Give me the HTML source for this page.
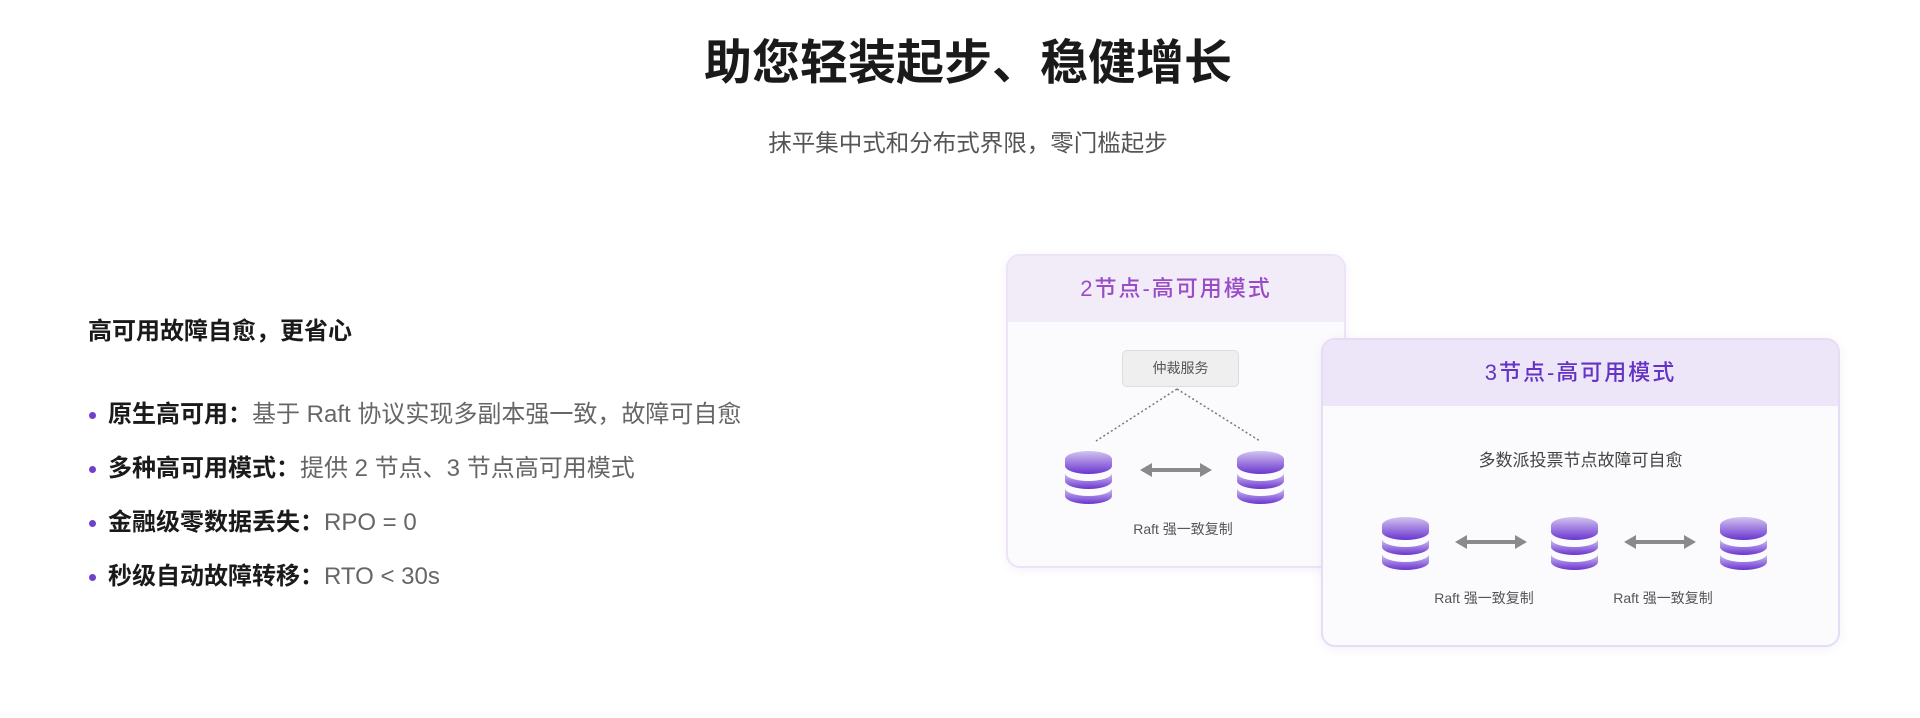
<!DOCTYPE html>
<html><head><meta charset="utf-8"><style>
*{margin:0;padding:0;box-sizing:border-box}
body{width:1920px;height:718px;background:#fff;position:relative;overflow:hidden;font-family:"Liberation Sans","Noto Sans CJK SC",sans-serif;color:#222}
.abs{position:absolute}
h1{position:absolute;left:8px;width:1920px;top:34px;text-align:center;font-size:48px;font-weight:700;color:#1a1a1a;line-height:60px}
.sub{left:8px;width:1920px;top:128px;text-align:center;font-size:23.5px;color:#555;line-height:30px}
.lh{left:88px;top:317px;font-size:24px;font-weight:700;color:#1a1a1a;line-height:30px}
.li{left:108px;font-size:24px;color:#666;line-height:30px;white-space:nowrap}
.li b{color:#1a1a1a}
.dot{width:7px;height:7px;border-radius:50%;background:#7040c8;left:89px}
.card{border:2px solid #ece4f6;border-radius:14px;background:#fbfbfd;overflow:hidden;box-shadow:0 2px 10px rgba(120,80,180,0.08)}
.hd{position:absolute;left:0;right:0;top:0;text-align:center;font-size:22px;letter-spacing:2px;font-weight:500}
.t{font-size:14px;color:#555;text-align:center;white-space:nowrap}
</style></head><body>
<h1>助您轻装起步、稳健增长</h1>
<div class="abs sub">抹平集中式和分布式界限，零门槛起步</div>
<div class="abs lh">高可用故障自愈，更省心</div>
<div class="abs dot" style="top:412px"></div><div class="abs li" style="top:400px"><b>原生高可用：</b>基于 Raft 协议实现多副本强一致，故障可自愈</div>
<div class="abs dot" style="top:466px"></div><div class="abs li" style="top:454px"><b>多种高可用模式：</b>提供 2 节点、3 节点高可用模式</div>
<div class="abs dot" style="top:520px"></div><div class="abs li" style="top:508px"><b>金融级零数据丢失：</b>RPO = 0</div>
<div class="abs dot" style="top:574px"></div><div class="abs li" style="top:562px"><b>秒级自动故障转移：</b>RTO &lt; 30s</div>

<svg width="0" height="0" style="position:absolute"><defs>
<linearGradient id="g" x1="0" y1="0" x2="0" y2="1"><stop offset="0" stop-color="#d3c4f0"/><stop offset="1" stop-color="#6a35d0"/></linearGradient>
<symbol id="db" viewBox="0 0 47 53">
<path d="M0 8 A23.5 8 0 0 1 47 8 V15 A23.5 8 0 0 1 0 15Z" fill="url(#g)"/>
<path d="M0 22 A23.5 8 0 0 0 47 22 V30 A23.5 8 0 0 1 0 30Z" fill="url(#g)"/>
<path d="M0 37 A23.5 8 0 0 0 47 37 V45 A23.5 8 0 0 1 0 45Z" fill="url(#g)"/>
</symbol>
<symbol id="ar" viewBox="0 0 72 14"><path d="M0 7 L12 0 V5 H60 V0 L72 7 L60 14 V9 H12 V14Z" fill="#8a8a8a"/></symbol>
</defs></svg>

<div class="abs card" style="left:1006px;top:254px;width:340px;height:314px">
<div class="hd" style="height:66px;line-height:66px;background:#f2ecf8;color:#9a4cc6">2节点-高可用模式</div>
</div>
<div class="abs" style="left:1122px;top:350px;width:117px;height:37px;border:1px solid #ddd;border-radius:5px;background:#efefef;font-size:14px;color:#555;text-align:center;line-height:35px">仲裁服务</div>
<svg class="abs" style="left:1000px;top:380px" width="300" height="70"><path d="M177 9 L96 61 M177 9 L260 61" stroke="#777" stroke-width="1.5" stroke-dasharray="2 2.5" fill="none"/></svg>
<svg class="abs" style="left:1065px;top:451px" width="47" height="53"><use href="#db"/></svg>
<svg class="abs" style="left:1237px;top:451px" width="47" height="53"><use href="#db"/></svg>
<svg class="abs" style="left:1140px;top:463px" width="72" height="14"><use href="#ar"/></svg>
<div class="abs t" style="left:1083px;width:200px;top:519px">Raft 强一致复制</div>

<div class="abs card" style="left:1321px;top:338px;width:519px;height:309px;border-color:#e6dcf6">
<div class="hd" style="height:66px;line-height:66px;background:#ede5f8;color:#6433c4">3节点-高可用模式</div>
</div>
<div class="abs" style="left:1321px;width:519px;top:446px;text-align:center;font-size:17px;color:#444">多数派投票节点故障可自愈</div>
<svg class="abs" style="left:1382px;top:517px" width="47" height="53"><use href="#db"/></svg>
<svg class="abs" style="left:1551px;top:517px" width="47" height="53"><use href="#db"/></svg>
<svg class="abs" style="left:1720px;top:517px" width="47" height="53"><use href="#db"/></svg>
<svg class="abs" style="left:1455px;top:535px" width="72" height="14"><use href="#ar"/></svg>
<svg class="abs" style="left:1624px;top:535px" width="72" height="14"><use href="#ar"/></svg>
<div class="abs t" style="left:1384px;width:200px;top:588px">Raft 强一致复制</div>
<div class="abs t" style="left:1563px;width:200px;top:588px">Raft 强一致复制</div>
</body></html>
